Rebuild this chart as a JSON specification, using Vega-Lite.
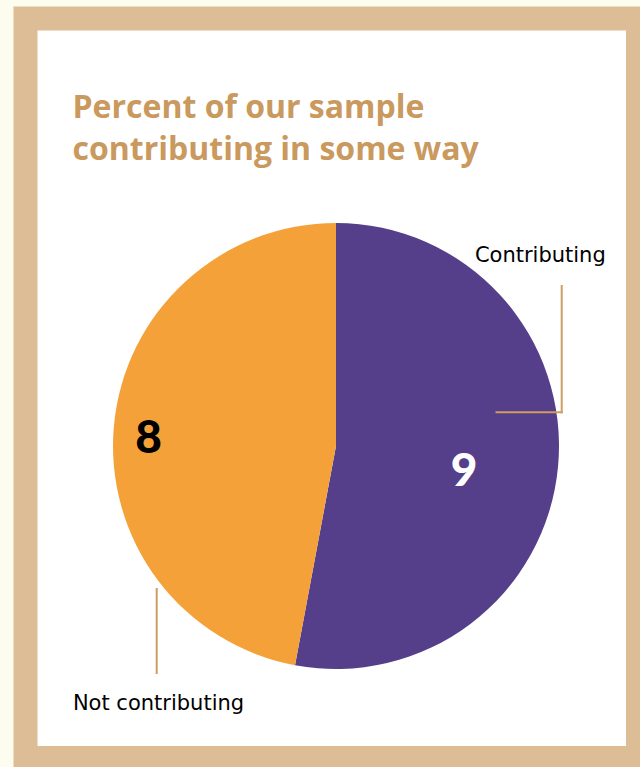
{
  "$schema": "https://vega.github.io/schema/vega-lite/v6.json",
  "width": 640,
  "height": 767,
  "autosize": {"type": "fit", "contains": "padding"},
  "padding": {"left": 25.5, "top": 18.5, "right": 2, "bottom": 9},
  "background": "#fdfdef",
  "view": {"fill": "#ffffff", "stroke": "#dcbd96", "strokeWidth": 24},
  "title": {
    "text": ["Percent of our sample", "contributing in some way"],
    "anchor": "start",
    "frame": "group",
    "orient": "top",
    "offset": -148,
    "dx": 47,
    "font": "Open Sans",
    "fontSize": 32,
    "fontWeight": "bold",
    "color": "#c9995e",
    "lineHeight": 42
  },
  "data": {
    "values": [
      {"status": "Contributing", "count": 9},
      {"status": "Not contributing", "count": 8}
    ]
  },
  "layer": [
    {
      "mark": {"type": "arc", "x": 310.5, "y": 427.5, "radius": 223},
      "encoding": {
        "theta": {"field": "count", "type": "quantitative", "stack": true},
        "color": {
          "field": "status",
          "type": "nominal",
          "sort": ["Contributing", "Not contributing"],
          "scale": {"domain": ["Contributing", "Not contributing"], "range": ["#553e8a", "#f5a13a"]},
          "legend": null
        },
        "order": {"field": "status", "sort": "ascending"}
      }
    },
    {
      "mark": {"type": "text", "x": 310.5, "y": 427.5, "radius": 130.6, "thetaOffset": 0.108, "font": "Lato", "fontSize": 46, "fontWeight": 900, "color": "#ffffff", "align": "center", "baseline": "middle"},
      "encoding": {
        "theta": {"field": "count", "type": "quantitative", "stack": true},
        "order": {"field": "status", "sort": "ascending"},
        "text": {"condition": {"test": "datum.status === 'Contributing'", "field": "count", "type": "quantitative"}, "value": ""}
      }
    },
    {
      "mark": {"type": "text", "x": 310.5, "y": 427.5, "radius": 187.6, "thetaOffset": -0.056, "font": "Lato", "fontSize": 46, "fontWeight": 900, "color": "#000000", "align": "center", "baseline": "middle"},
      "encoding": {
        "theta": {"field": "count", "type": "quantitative", "stack": true},
        "order": {"field": "status", "sort": "ascending"},
        "text": {"condition": {"test": "datum.status === 'Not contributing'", "field": "count", "type": "quantitative"}, "value": ""}
      }
    },
    {
      "mark": {"type": "text", "x": 310.5, "y": 427.5, "radius": 230.8, "thetaOffset": -1.0175, "font": "DejaVu Sans", "fontSize": 21, "color": "#000000", "align": "left", "baseline": "alphabetic"},
      "encoding": {
        "theta": {"field": "count", "type": "quantitative", "stack": true},
        "order": {"field": "status", "sort": "ascending"},
        "text": {"condition": {"test": "datum.status === 'Contributing'", "field": "status", "type": "nominal"}, "value": ""}
      }
    },
    {
      "mark": {"type": "text", "x": 310.5, "y": 427.5, "radius": 372.9, "thetaOffset": -0.880, "font": "DejaVu Sans", "fontSize": 21, "color": "#000000", "align": "left", "baseline": "alphabetic"},
      "encoding": {
        "theta": {"field": "count", "type": "quantitative", "stack": true},
        "order": {"field": "status", "sort": "ascending"},
        "text": {"condition": {"test": "datum.status === 'Not contributing'", "field": "status", "type": "nominal"}, "value": ""}
      }
    },
    {
      "data": {"values": [{"line": "contributing-vertical"}]},
      "mark": {"type": "rule", "color": "#cd9d62", "strokeWidth": 2},
      "encoding": {"x": {"value": 536.2}, "y": {"value": 266.5}, "x2": {"value": 536.2}, "y2": {"value": 394.8}}
    },
    {
      "data": {"values": [{"line": "contributing-horizontal"}]},
      "mark": {"type": "rule", "color": "#cd9d62", "strokeWidth": 2},
      "encoding": {"x": {"value": 470}, "y": {"value": 393.8}, "x2": {"value": 537.2}, "y2": {"value": 393.8}}
    },
    {
      "data": {"values": [{"line": "not-contributing-vertical"}]},
      "mark": {"type": "rule", "color": "#cd9d62", "strokeWidth": 2},
      "encoding": {"x": {"value": 131.2}, "y": {"value": 569.5}, "x2": {"value": 131.2}, "y2": {"value": 655.5}}
    }
  ]
}
